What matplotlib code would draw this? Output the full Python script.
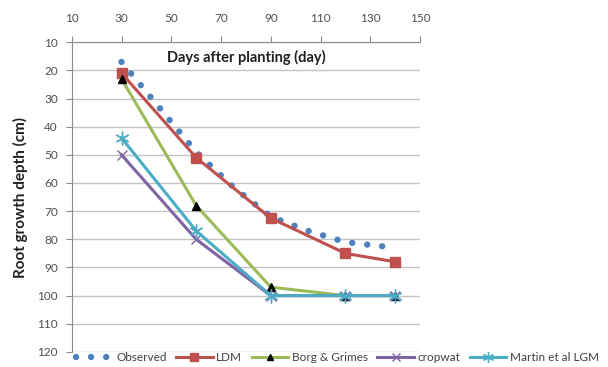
import matplotlib.pyplot as plt

# days after planting for the model series
dias = [30, 60, 90, 120, 140]

# observed curve
dias_obs = [30, 45, 60, 75, 90, 105, 120, 140]
observado = [17, 33, 49, 61.5, 72, 77, 81, 83]

# root depth (cm) per model
ldm = [21, 51, 72.5, 85, 88]
borg_grimes = [23, 68, 97, 100, 100]
cropwat = [50, 80, 100, 100, 100]
martin_lgm = [44, 77, 100, 100, 100]

xticks = [10, 30, 50, 70, 90, 110, 130, 150]
yticks = [10, 20, 30, 40, 50, 60, 70, 80, 90, 100, 110, 120]

plt.rcParams['font.family'] = ['Lato', 'DejaVu Sans']

fig = plt.figure(figsize=(6.08, 3.67), dpi=100)
ax = fig.add_axes([0.118, 0.041, 0.573, 0.844])

# gridlines
for y in yticks:
    ax.axhline(y, color='#c4c4c4', lw=1.0, zorder=0)

ax.plot(dias_obs, observado, color='#4F81BD', lw=4.6,
        linestyle=(0, (0.01, 2.35)), dash_capstyle='round', label='Observed', zorder=2)
ax.plot(dias, ldm, color='#C0504D', lw=2.2, marker='s', markersize=7.5,
        label='LDM', zorder=3)
ax.plot(dias, borg_grimes, color='#9BBB59', lw=2.2, marker='^', markersize=6,
        markerfacecolor='black', markeredgecolor='black', label='Borg & Grimes', zorder=4)
ax.plot(dias, cropwat, color='#8064A2', lw=2.2, marker='x', markersize=7,
        markeredgewidth=1.0, label='cropwat', zorder=5)
ax.plot(dias, martin_lgm, color='#4BACC6', lw=2.2, marker=(6, 2, 0), markersize=10,
        markeredgewidth=1.0, label='Martin et al LGM', zorder=6)

ax.set_xlim(10, 150)
ax.set_ylim(120, 10)
ax.set_xticks(xticks)
ax.set_yticks(yticks)
ax.xaxis.tick_top()
ax.tick_params(axis='x', direction='out', length=4, pad=9, colors='#8c8c8c',
               labelcolor='#505050', labelsize=8.5)
ax.tick_params(axis='y', direction='out', length=4, pad=6, colors='#8c8c8c',
               labelcolor='#505050', labelsize=8.5)

for lado in ['right', 'bottom']:
    ax.spines[lado].set_visible(False)
ax.spines['top'].set_color('#8c8c8c')
ax.spines['left'].set_color('#8c8c8c')

ax.text(0.5, 0.975, 'Days after planting (day)', transform=ax.transAxes,
        ha='center', va='top', fontsize=10.5, fontweight='bold', color='#202020')
ax.set_ylabel('Root growth depth (cm)', fontsize=11, fontweight='bold', color='#202020',
              labelpad=7)

fig.legend(loc='center', bbox_to_anchor=(0.555, 0.025), ncol=5, frameon=False,
           fontsize=8.5, handlelength=3.1, columnspacing=0.8, handletextpad=0.3,
           markerscale=0.8, labelcolor='#404040')

plt.savefig('out.png', dpi=100)
